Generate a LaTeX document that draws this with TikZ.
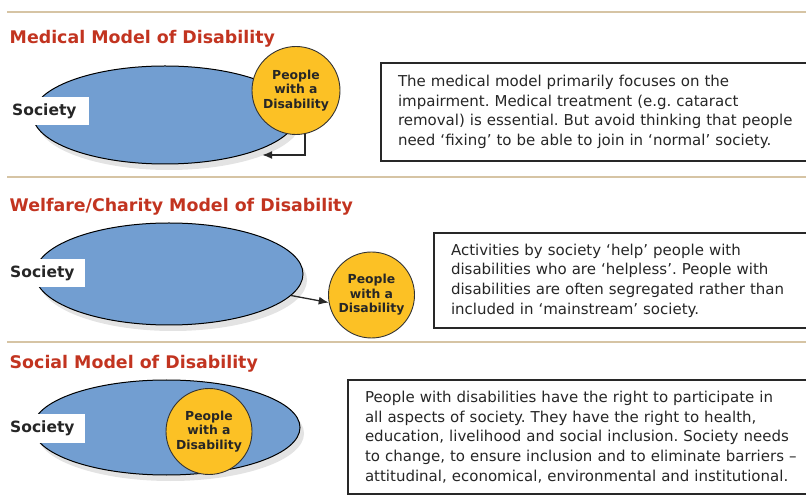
\documentclass[tikz,border=0pt]{standalone}
\usepackage{fontspec}
\setmainfont{DejaVu Sans}
\usepackage{tikz}
\usetikzlibrary{shapes.geometric}
\usetikzlibrary{shadows}
\usetikzlibrary{arrows.meta}
\definecolor{SocBlue}{RGB}{114,158,209}
\definecolor{PwdYellow}{RGB}{252,193,37}
\definecolor{TitleRed}{RGB}{194,52,32}
\definecolor{RuleTan}{RGB}{214,196,164}
\definecolor{BoxGray}{RGB}{40,40,40}
\tikzset{conn/.style={->,>={Latex[length=10pt,width=8pt]},line width=1.8pt,draw=BoxGray}}
\frenchspacing

\begin{document}
\begin{tikzpicture}[x=1pt,y=-1pt]
		\tikzstyle{Society}=[ellipse,fill=SocBlue,draw=black,line width=1pt,inner sep=0pt,drop shadow={opacity=0.22,shadow xshift=4pt,shadow yshift=-6pt}]
		\tikzstyle{Pwd}=[circle,fill=PwdYellow,draw=black!80,line width=0.9pt,inner sep=0pt,minimum size=86pt,align=center,text=black!85,font=\fontsize{12.4}{14.5}\selectfont\bfseries]
		\tikzstyle{Label}=[rectangle,fill=white,anchor=west,inner xsep=10pt,inner ysep=0pt,minimum height=28pt,text=black!85,font=\fontsize{15.5}{18}\selectfont\bfseries]
		\tikzstyle{Title}=[anchor=base west,inner sep=0pt,text=TitleRed,font=\fontsize{17.4}{20}\selectfont\bfseries]
		\tikzstyle{Note}=[rectangle,draw=BoxGray,line width=2pt,anchor=north west,inner xsep=17pt,inner ysep=0pt,text width=460pt,align=left,text=black!85,font=\fontsize{15}{19.7}\selectfont]

		\useasboundingbox (0,0) rectangle (806,502);

		\foreach \y in {12,177,342}
			\draw [RuleTan,line width=2pt] (7,\y) -- (806,\y);

		% medical model
		\node [Title] (Tmed) at (9.5,43.5) {Medical Model of Disability};
		\node [Society,minimum width=264pt,minimum height=98pt] (Smed) at (165,115) {};
		\node [Label,inner xsep=12pt] (Lmed) at (0,111) {Society};
		\node [Pwd,minimum size=88pt] (Pmed) at (296,90.5) {People\\with a\\Disability};
		\coordinate (medEnd) at (262,155);
		\draw [conn] (Pmed.-78) |- (medEnd);
		\node [Note,minimum height=98pt] (Nmed) at (380,62) {The medical model primarily focuses on the\\impairment. Medical treatment (e.g. cataract\\removal) is essential. But avoid thinking that people\\need ‘fixing’ to be able to join in ‘normal’ society.};

		% welfare / charity model
		\node [Title] (Twel) at (9.5,212) {Welfare/Charity Model of Disability};
		\node [Society,minimum width=268pt,minimum height=102pt] (Swel) at (169,274) {};
		\node [Label] (Lwel) at (0,273) {Society};
		\node [Pwd] (Pwel) at (371.5,295) {People\\with a\\Disability};
		\draw [conn,line width=1.3pt] (Swel.-10) -- (Pwel.190);
		\node [Note,minimum height=95pt] (Nwel) at (433,232) {Activities by society ‘help’ people with\\disabilities who are ‘helpless’. People with\\disabilities are often segregated rather than\\included in ‘mainstream’ society.};

		% social model
		\node [Title] (Tsoc) at (9.5,369) {Social Model of Disability};
		\node [Society,minimum width=267pt,minimum height=95pt] (Ssoc) at (166.5,427.5) {};
		\node [Label] (Lsoc) at (0,428.5) {Society};
		\node [Pwd] (Psoc) at (209,431.5) {People\\with a\\Disability};
		\node [Note,minimum height=114pt] (Nsoc) at (347,379) {People with disabilities have the right to participate in\\all aspects of society. They have the right to health,\\education, livelihood and social inclusion. Society needs\\to change, to ensure inclusion and to eliminate barriers –\\attitudinal, economical, environmental and institutional.};

\end{tikzpicture}
\end{document}
